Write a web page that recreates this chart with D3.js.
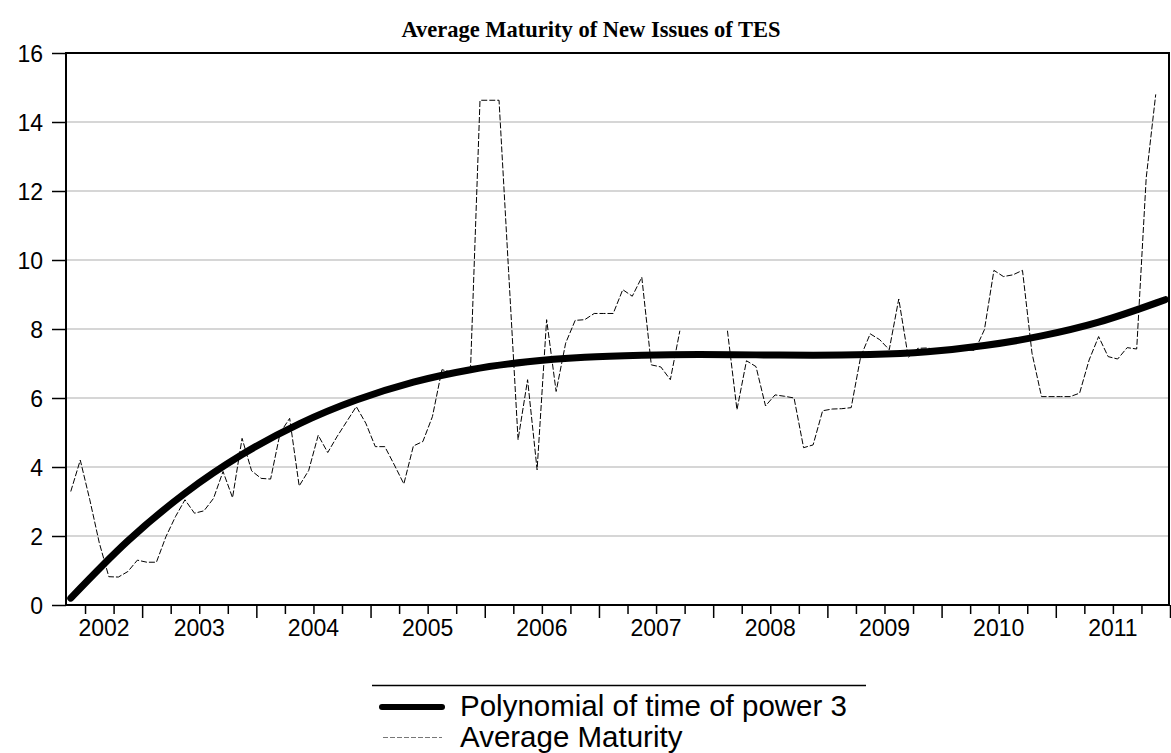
<!DOCTYPE html>
<html>
<head>
<meta charset="utf-8">
<script src="https://cdn.jsdelivr.net/npm/d3@7"></script>
<style>
  body { margin:0; background:#fff; }
  svg { display:block; }
  .tick text { font-family: "Liberation Sans", Arial, sans-serif; fill:#000; }
</style>
</head>
<body>
<svg id="chart"></svg>
<script>
// monthly series starting May 2002 (index 0), null = no observation
var startYear = 2002, startMonth = 5;
var maturity = [
  3.29, 4.2, 3.05, 1.8, 0.82, 0.81, 0.97, 1.3,            // 2002 May-Dec
  1.24, 1.24, 1.98, 2.56, 3.05, 2.66, 2.73, 3.09, 3.87, 3.11, 4.83, 3.89, // 2003
  3.67, 3.65, 4.99, 5.41, 3.45, 3.9, 4.92, 4.42, 4.89, 5.32, 5.75, 5.27,  // 2004
  4.59, 4.59, 4.06, 3.51, 4.61, 4.74, 5.46, 6.82, 6.75, 6.75, 6.8, 14.63, // 2005
  14.63, 14.63, 9.7, 4.79, 6.53, 3.92, 8.27, 6.19, 7.59, 8.25, 8.27, 8.45, // 2006
  8.45, 8.45, 9.14, 8.95, 9.5, 6.96, 6.9, 6.53, 7.95, null, null, null,   // 2007
  null, 7.95, 5.66, 7.08, 6.91, 5.77, 6.09, 6.05, 6.0, 4.56, 4.64, 5.63,  // 2008
  5.68, 5.69, 5.72, 7.2, 7.86, 7.69, 7.4, 8.87, 7.18, 7.44, 7.45, 7.4,    // 2009
  7.4, 7.45, 7.4, 7.38, 7.98, 9.7, 9.52, 9.57, 9.7, 7.3, 6.04, 6.04,      // 2010
  6.04, 6.04, 6.14, 7.1, 7.78, 7.2, 7.13, 7.46, 7.42, 12.38, 14.8, null   // 2011
];

// fitted cubic trend, every six months
var polyMonth = [0, 6, 12, 18, 24, 30, 36, 42, 48, 54, 60, 66, 72, 78, 84, 90, 96, 102, 108, 114, 115];
var polyValue = [0.2, 1.86, 3.24, 4.36, 5.25, 5.94, 6.46, 6.82, 7.05, 7.18, 7.24, 7.26, 7.25, 7.24, 7.26, 7.34, 7.52, 7.8, 8.2, 8.75, 8.85];

var yearLabels = ["2002", "2003", "2004", "2005", "2006", "2007", "2008", "2009", "2010", "2011"];
var yTicks = [0, 2, 4, 6, 8, 10, 12, 14, 16];

var title = "Average Maturity of New Issues of TES";
var legendNames = ["Polynomial of time of power 3", "Average Maturity"];

var screen = {width:1171, height:753};
var margins = {top:53, left:66, right:1, bottom:148};
var graph = {
    width: screen.width - margins.left - margins.right,
    height: screen.height - margins.top - margins.bottom
};

var svg = d3.select("#chart")
    .attr("width", screen.width)
    .attr("height", screen.height);

var nMonths = maturity.length;

var xScale = d3.scaleLinear()
    .domain([0, nMonths])
    .range([0, graph.width]);

var yScale = d3.scaleLinear()
    .domain([0, 16])
    .range([graph.height, 0]);

// month index of every january / quarter inside the range
var monthOf = function(i) { return (startMonth - 1 + i) % 12; };
var yearStarts = d3.range(0, nMonths + 1).filter(function(i) { return monthOf(i) == 0; });
var quarterStarts = d3.range(1, nMonths).filter(function(i) { return monthOf(i) % 3 == 0 && monthOf(i) != 0; });

var g = svg.append("g")
    .attr("transform", "translate(" + margins.left + "," + margins.top + ")");

// title
svg.append("text")
    .attr("x", 591)
    .attr("y", 37)
    .attr("text-anchor", "middle")
    .style("font-family", "'Liberation Serif', 'Times New Roman', serif")
    .style("font-weight", "bold")
    .style("font-size", "22.5px")
    .text(title);

// gridlines
g.append("g")
    .selectAll("line")
    .data(yTicks.slice(1, -1))
    .enter()
    .append("line")
    .attr("x1", 0)
    .attr("x2", graph.width)
    .attr("y1", function(d) { return yScale(d); })
    .attr("y2", function(d) { return yScale(d); })
    .attr("stroke", "#d6d6d6")
    .attr("stroke-width", 2);

// y axis
var yAxis = d3.axisLeft(yScale)
    .tickValues(yTicks)
    .tickSize(14)
    .tickPadding(9)
    .tickFormat(d3.format("d"));
g.append("g")
    .call(yAxis)
    .call(function(a) {
        a.select(".domain").remove();
        a.selectAll("line").attr("stroke", "#000").attr("stroke-width", 1.5);
        a.selectAll("text").style("font-size", "23px").attr("dy", "0.36em");
    });

// x axis: minor ticks at quarters, major at years
var xMinor = d3.axisBottom(xScale)
    .tickValues(quarterStarts)
    .tickSize(9)
    .tickFormat("");
g.append("g")
    .attr("transform", "translate(0," + graph.height + ")")
    .call(xMinor)
    .call(function(a) {
        a.select(".domain").remove();
        a.selectAll("line").attr("stroke", "#000").attr("stroke-width", 1.5);
    });

var xMajor = d3.axisBottom(xScale)
    .tickValues(yearStarts)
    .tickSize(13)
    .tickFormat("");
g.append("g")
    .attr("transform", "translate(0," + graph.height + ")")
    .call(xMajor)
    .call(function(a) {
        a.select(".domain").remove();
        a.selectAll("line").attr("stroke", "#000").attr("stroke-width", 1.5);
    });

// year labels centred on the visible part of each year
g.append("g")
    .selectAll("text")
    .data(yearLabels)
    .enter()
    .append("text")
    .attr("x", function(d, i) {
        var a = i == 0 ? 0 : yearStarts[i - 1];
        var b = i < yearStarts.length ? yearStarts[i] : nMonths;
        return (xScale(a) + xScale(b)) / 2;
    })
    .attr("y", graph.height + 31)
    .attr("text-anchor", "middle")
    .style("font-family", "'Liberation Sans', Arial, sans-serif")
    .style("font-size", "23px")
    .text(function(d) { return d; });

// dashed series
var dashedLine = d3.line()
    .defined(function(d) { return d != null; })
    .x(function(d, i) { return xScale(i + 0.5); })
    .y(function(d) { return yScale(d); });

g.append("path")
    .datum(maturity)
    .attr("fill", "none")
    .attr("stroke", "#000")
    .attr("stroke-width", 1)
    .attr("stroke-dasharray", "6,2")
    .attr("d", dashedLine);

// polynomial trend
var polyLine = d3.line()
    .curve(d3.curveMonotoneX)
    .x(function(d, i) { return xScale(polyMonth[i] + 0.5); })
    .y(function(d) { return yScale(d); });

g.append("path")
    .datum(polyValue)
    .attr("fill", "none")
    .attr("stroke", "#000")
    .attr("stroke-width", 7)
    .attr("stroke-linecap", "round")
    .attr("d", polyLine);

// frame
g.append("rect")
    .attr("x", 0)
    .attr("y", 0)
    .attr("width", graph.width - 1)
    .attr("height", graph.height)
    .attr("fill", "none")
    .attr("stroke", "#000")
    .attr("stroke-width", 2);

// legend
var legend = svg.append("g").attr("transform", "translate(372,0)");
legend.append("line")
    .attr("x1", 0).attr("x2", 494)
    .attr("y1", 685.5).attr("y2", 685.5)
    .attr("stroke", "#000").attr("stroke-width", 1.5);
legend.append("line")
    .attr("x1", 10).attr("x2", 70)
    .attr("y1", 707).attr("y2", 707)
    .attr("stroke", "#000").attr("stroke-width", 6)
    .attr("stroke-linecap", "round");
legend.append("line")
    .attr("x1", 11).attr("x2", 70)
    .attr("y1", 737.5).attr("y2", 737.5)
    .attr("stroke", "#777").attr("stroke-width", 1)
    .attr("stroke-dasharray", "5,2");
legend.selectAll("text.name")
    .data(legendNames)
    .enter()
    .append("text")
    .attr("class", "name")
    .attr("x", 88)
    .attr("y", function(d, i) { return 716 + i * 31; })
    .style("font-family", "'Liberation Sans', Arial, sans-serif")
    .style("font-size", "29.5px")
    .text(function(d) { return d; });
</script>
</body>
</html>
